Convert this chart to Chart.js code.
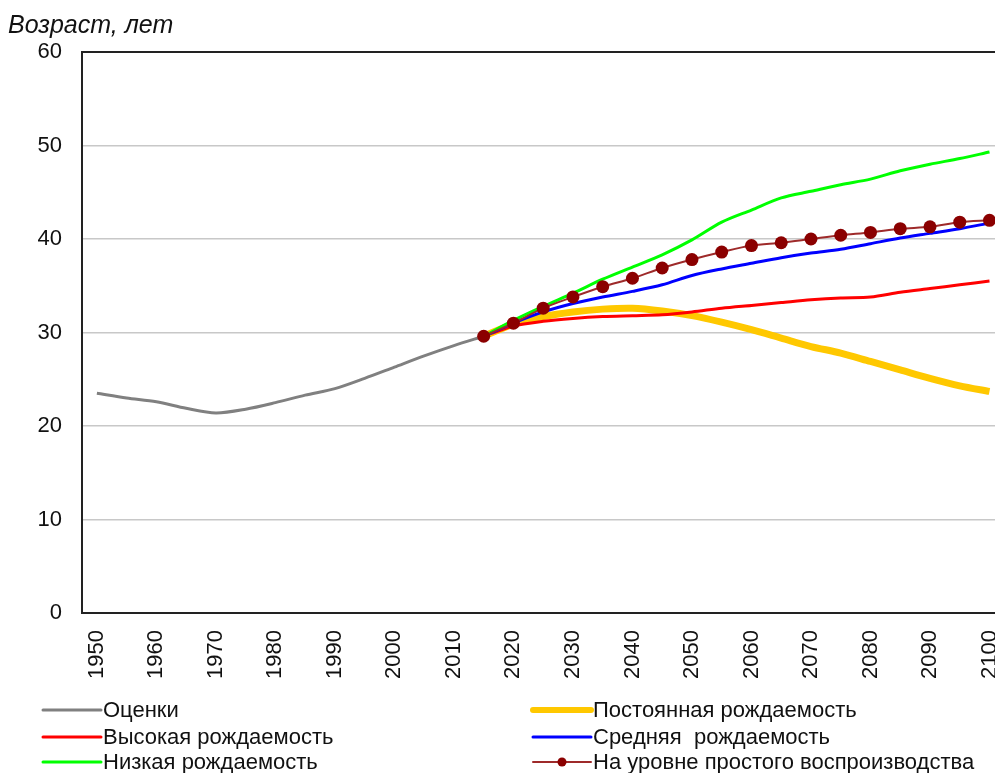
<!DOCTYPE html>
<html><head><meta charset="utf-8">
<script src="https://cdn.jsdelivr.net/npm/chart.js@4/dist/chart.umd.min.js"></script>
<style>
html,body{margin:0;padding:0;overflow:hidden;background:#fff;}
#wrap{position:relative;width:1033px;height:773px;}
#c{display:block;width:1033px;height:773px;}
</style></head><body>
<div id="wrap"><canvas id="c"></canvas></div>
<script>
const years = ['1950','1955','1960','1965','1970','1975','1980','1985','1990','1995','2000','2005','2010','2015',
  '2020','2025','2030','2035','2040','2045','2050','2055','2060','2065','2070','2075','2080','2085','2090','2095','2100'];
const tickLabels = ['1950','1960','1970','1980','1990','2000','2010','2020','2030','2040','2050','2060','2070','2080','2090','2100'];
const yTicks = [0,10,20,30,40,50,60];
const N = null;
const estimates = [23.5,23.0,22.6,21.9,21.4,21.8,22.5,23.3,24.0,25.1,26.3,27.5,28.6,29.6,
  N,N,N,N,N,N,N,N,N,N,N,N,N,N,N,N,N];
const pre = [N,N,N,N,N,N,N,N,N,N,N,N,N];
const constantFert = pre.concat([29.6,30.9,31.7,32.2,32.5,32.6,32.3,31.8,31.1,30.3,29.4,28.5,27.8,26.9,26.0,25.1,24.3,23.7]);
const highFert     = pre.concat([29.6,30.7,31.2,31.5,31.7,31.8,31.9,32.2,32.6,32.9,33.2,33.5,33.7,33.8,34.3,34.7,35.1,35.5]);
const mediumFert   = pre.concat([29.6,31.0,32.2,33.1,33.8,34.4,35.1,36.1,36.8,37.4,38.0,38.5,38.9,39.5,40.1,40.6,41.1,41.7]);
const lowFert      = pre.concat([29.6,31.3,32.8,34.2,35.7,37.0,38.3,39.9,41.8,43.1,44.4,45.1,45.8,46.4,47.3,48.0,48.6,49.3]);
const replacement  = pre.concat([29.6,31.0,32.6,33.8,34.9,35.8,36.9,37.8,38.6,39.3,39.6,40.0,40.4,40.7,41.1,41.3,41.8,42.0]);

const FONT = '"Liberation Sans", Arial, sans-serif';

// legend placement: [column, row] per dataset
const legendSlots = [[0,0],[1,0],[0,1],[1,1],[0,2],[1,2]];

const framePlugin = {
  id:'frame',
  afterDatasetsDraw(chart){
    const {ctx, chartArea:a} = chart;
    ctx.save();
    ctx.strokeStyle = '#222';
    ctx.lineWidth = 2;
    ctx.strokeRect(a.left, a.top, a.right - a.left, a.bottom - a.top);
    ctx.restore();
  },
  afterDraw(chart){
    const ctx = chart.ctx;
    ctx.save();
    // axis title
    ctx.fillStyle = '#111';
    ctx.font = 'italic 25px ' + FONT;
    ctx.textBaseline = 'alphabetic';
    ctx.textAlign = 'left';
    ctx.fillText('Возраст, лет', 8, 33);
    // legend
    const colX = [43, 533];
    const rowY = [710, 737, 762];
    const lineLen = 58;
    ctx.font = '22px ' + FONT;
    ctx.textBaseline = 'middle';
    chart.data.datasets.forEach((ds, i) => {
      const [c, r] = legendSlots[i];
      const x0 = colX[c], y = rowY[r];
      ctx.strokeStyle = ds.borderColor;
      ctx.lineWidth = Math.min(ds.borderWidth, 6);
      ctx.lineCap = 'round';
      ctx.beginPath(); ctx.moveTo(x0, y); ctx.lineTo(x0 + lineLen, y); ctx.stroke();
      if (ds.pointRadius > 0) {
        ctx.fillStyle = ds.pointBackgroundColor;
        ctx.beginPath(); ctx.arc(x0 + lineLen/2, y, 4.5, 0, Math.PI*2); ctx.fill();
      }
      ctx.fillStyle = '#111';
      ctx.fillText(ds.label, x0 + lineLen + 2, y + 1);
    });
    ctx.restore();
  }
};

const common = {pointRadius:0, tension:0.3, spanGaps:false, fill:false};

new Chart(document.getElementById('c'), {
  type:'line',
  data:{
    labels: years,
    datasets:[
      Object.assign({label:'Оценки', data:estimates, borderColor:'#808080', borderWidth:3, order:5}, common),
      Object.assign({label:'Постоянная рождаемость', data:constantFert, borderColor:'#ffc800', borderWidth:7, order:4}, common),
      Object.assign({label:'Высокая рождаемость', data:highFert, borderColor:'#ff0000', borderWidth:3, order:3}, common),
      Object.assign({label:'Средняя  рождаемость', data:mediumFert, borderColor:'#0000ff', borderWidth:3, order:2}, common),
      Object.assign({label:'Низкая рождаемость', data:lowFert, borderColor:'#00ff00', borderWidth:3, order:1}, common),
      Object.assign({}, common, {label:'На уровне простого воспроизводства', data:replacement, borderColor:'#9e2a2a', borderWidth:2,
        pointRadius:6.5, pointBackgroundColor:'#8b0000', pointBorderColor:'#8b0000', pointBorderWidth:0, order:0})
    ]
  },
  options:{
    responsive:true,
    maintainAspectRatio:false,
    animation:false,
    devicePixelRatio:1,
    layout:{padding:{top:52, left:0, right:6, bottom:80}},
    plugins:{legend:{display:false}, tooltip:{enabled:false}, title:{display:false}},
    scales:{
      x:{
        type:'category', offset:true,
        grid:{display:false, drawTicks:false},
        border:{display:false},
        ticks:{autoSkip:false, minRotation:90, maxRotation:90, padding:17,
          color:'#111', font:{family:FONT, size:22},
          callback(v, i){ const l = years[i]; return tickLabels.includes(l) ? l : null; }},
        afterFit(s){ s.height = 80; }
      },
      y:{
        min:0, max:60,
        afterBuildTicks(s){ s.ticks = yTicks.map(v => ({value:v})); },
        grid:{drawTicks:false, color:'#c8c8c8', lineWidth:1.5},
        border:{display:false},
        ticks:{padding:20, color:'#111', font:{family:FONT, size:22}},
        afterFit(s){ s.width = 82; }
      }
    }
  },
  plugins:[framePlugin]
});
</script>
</body></html>
